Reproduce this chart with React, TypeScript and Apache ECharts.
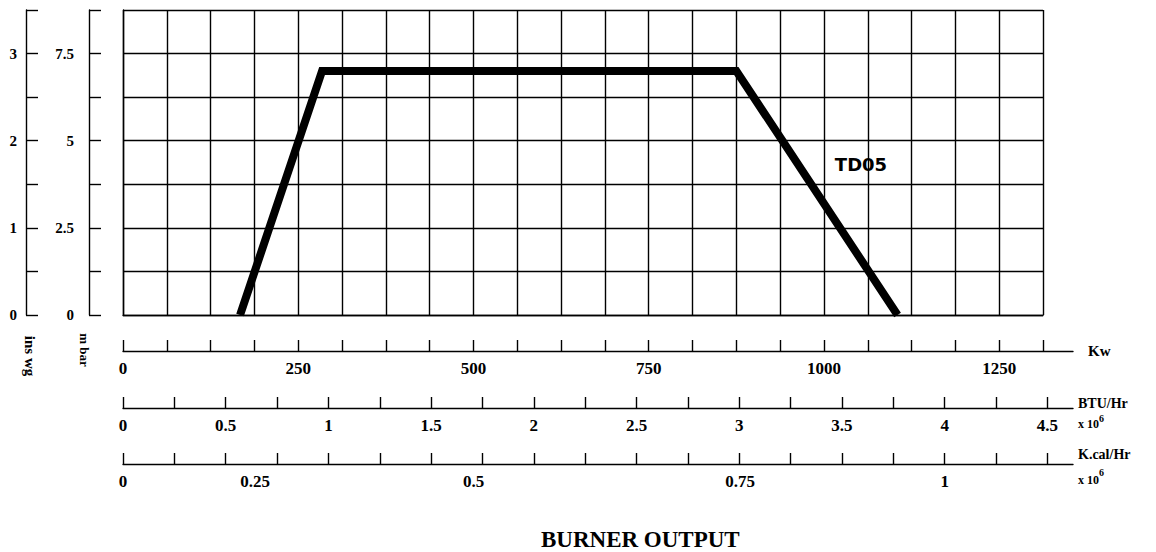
import React, { useEffect, useRef } from "react";
import * as echarts from "echarts";

// ---- unit conversions used by the secondary scales ----
const KW_PER_MBTU = 293.07; // 1 x10^6 BTU/Hr in kW
const KW_PER_MKCAL = 1163; // 1 x10^6 K.cal/Hr in kW

// ---- TD05 burner operating curve (kW vs mbar) ----
const CURVE_NAME = "TD05";
const CURVE_KW = [167, 284, 875, 1105];
const CURVE_MBAR = [0, 7, 7, 0];

// ---- grid / scales ----
const KW_STEP = 62.5;
const KW_COLS = 21;
const KW_MAX = KW_STEP * KW_COLS; // 1312.5
const MBAR_STEP = 1.25;
const MBAR_MAX = 8.75;
const INWG_STEP = 0.5;
const INWG_MAX = 3.5;

// ---- tick labels ----
const MBAR_LABELS = [0, 2.5, 5, 7.5];
const INWG_LABELS = [0, 1, 2, 3];
const KW_TICKS = [
  0, 62.5, 125, 187.5, 250, 312.5, 375, 437.5, 500, 562.5, 625, 687.5, 750,
  812.5, 875, 937.5, 1000, 1062.5, 1125, 1187.5, 1250, 1312.5,
];
const KW_LABELS = [0, 250, 500, 750, 1000, 1250];
const BTU_TICKS = [
  0, 0.25, 0.5, 0.75, 1, 1.25, 1.5, 1.75, 2, 2.25, 2.5, 2.75, 3, 3.25, 3.5,
  3.75, 4, 4.25, 4.5,
];
const BTU_LABELS = [0, 0.5, 1, 1.5, 2, 2.5, 3, 3.5, 4, 4.5];
const KCAL_LABELS = ["0", "0.25", "0.5", "0.75", "1"];
// where the printed chart places the K.cal labels along its scale (x10^6 K.cal/Hr)
const KCAL_LABEL_AT = [0, 0.162, 0.43, 0.757, 1.008];

const SERIF = '"Liberation Serif", "Times New Roman", serif';
const lab = (size: number) => ({
  fontFamily: SERIF,
  fontWeight: "bold" as const,
  fontSize: size,
  color: "#000",
});
const BLACK_LINE = { color: "#000", width: 1.4 };

export default function App() {
  const ref = useRef<HTMLDivElement>(null);

  useEffect(() => {
    if (!ref.current) return;
    const chart = echarts.init(ref.current, undefined, { renderer: "svg" });

    const PLOT_L = 123;
    const PLOT_T = 10;
    const PLOT_W = 920;
    const PLOT_H = 305;
    const EXT_W = 950; // bottom scales run a little past the grid
    const KW_EXT = (KW_MAX * EXT_W) / PLOT_W;

    const bottomAxis = (
      gridIndex: number,
      max: number,
      ticks: number[],
      labels: number[],
      fmt: (v: number) => string,
      name: string,
      nameGap: number,
      nameStyle: any
    ) => ({
      type: "value",
      gridIndex,
      position: "bottom",
      min: 0,
      max,
      axisLine: { show: true, onZero: false, lineStyle: BLACK_LINE },
      axisTick: {
        show: true,
        inside: true,
        length: 11,
        customValues: ticks,
        lineStyle: BLACK_LINE,
      },
      axisLabel: {
        show: true,
        customValues: labels,
        margin: 9,
        formatter: fmt,
        ...lab(17),
      },
      splitLine: { show: false },
      name,
      nameLocation: "end",
      nameGap,
      nameTextStyle: nameStyle,
    });

    const option: any = {
      animation: false,
      backgroundColor: "#fff",
      title: {
        text: "BURNER OUTPUT",
        left: 541,
        top: 528,
        padding: 0,
        textStyle: { ...lab(23) },
      },
      grid: [
        { left: PLOT_L, top: PLOT_T, width: PLOT_W, height: PLOT_H },
        { left: PLOT_L, top: 350, width: EXT_W, height: 1 },
        { left: PLOT_L, top: 407, width: EXT_W, height: 1 },
        { left: PLOT_L, top: 463, width: EXT_W, height: 1 },
      ],
      xAxis: [
        {
          type: "value",
          gridIndex: 0,
          min: 0,
          max: KW_MAX,
          interval: KW_STEP,
          axisLine: { show: true, onZero: false, lineStyle: BLACK_LINE },
          axisTick: { show: false },
          axisLabel: { show: false },
          splitLine: { show: true, lineStyle: BLACK_LINE },
        },
        bottomAxis(
          1,
          KW_EXT,
          KW_TICKS,
          KW_LABELS,
          (v) => String(v),
          "Kw",
          15,
          { ...lab(15), align: "left", verticalAlign: "middle" }
        ),
        bottomAxis(
          2,
          KW_EXT / KW_PER_MBTU,
          BTU_TICKS,
          BTU_LABELS,
          (v) => String(v),
          "{a|BTU/Hr}\n{b|x 10}{s|6}",
          5,
          {
            align: "left",
            verticalAlign: "middle",
            padding: [11, 0, 0, 0],
            rich: {
              a: { ...lab(14), lineHeight: 21 },
              b: { ...lab(12), lineHeight: 21 },
              s: { ...lab(10), lineHeight: 17, verticalAlign: "top" },
            },
          }
        ),
        bottomAxis(
          3,
          KW_EXT / KW_PER_MKCAL,
          BTU_TICKS.map((b) => (b * KW_PER_MBTU) / KW_PER_MKCAL),
          KCAL_LABEL_AT,
          (v) => {
            let best = 0;
            KCAL_LABEL_AT.forEach((p, i) => {
              if (Math.abs(p - v) < Math.abs(KCAL_LABEL_AT[best] - v)) best = i;
            });
            return KCAL_LABELS[best];
          },
          "{a|K.cal/Hr}\n{b|x 10}{s|6}",
          5,
          {
            align: "left",
            verticalAlign: "middle",
            padding: [6, 0, 0, 0],
            rich: {
              a: { ...lab(14), lineHeight: 26 },
              b: { ...lab(12), lineHeight: 26 },
              s: { ...lab(10), lineHeight: 21, verticalAlign: "top" },
            },
          }
        ),
      ],
      yAxis: [
        {
          type: "value",
          gridIndex: 0,
          position: "left",
          min: 0,
          max: MBAR_MAX,
          interval: MBAR_STEP,
          axisLine: { show: true, onZero: false, lineStyle: BLACK_LINE },
          axisTick: { show: false },
          axisLabel: { show: false },
          splitLine: { show: true, lineStyle: BLACK_LINE },
        },
        {
          type: "value",
          gridIndex: 0,
          position: "left",
          offset: 34,
          min: 0,
          max: MBAR_MAX,
          interval: MBAR_STEP,
          axisLine: { show: true, onZero: false, lineStyle: BLACK_LINE },
          axisTick: { show: true, inside: true, length: 12, lineStyle: BLACK_LINE },
          axisLabel: {
            show: true,
            customValues: MBAR_LABELS,
            margin: 15,
            formatter: (v: number) => String(v),
            ...lab(15),
          },
          splitLine: { show: false },
        },
        {
          type: "value",
          gridIndex: 0,
          position: "left",
          offset: 97,
          min: 0,
          max: INWG_MAX,
          interval: INWG_STEP,
          axisLine: { show: true, onZero: false, lineStyle: BLACK_LINE },
          axisTick: { show: true, inside: true, length: 12, lineStyle: BLACK_LINE },
          axisLabel: {
            show: true,
            customValues: INWG_LABELS,
            margin: 9,
            formatter: (v: number) => String(v),
            ...lab(15),
          },
          splitLine: { show: false },
        },
        { type: "value", gridIndex: 1, show: false, min: 0, max: 1 },
        { type: "value", gridIndex: 2, show: false, min: 0, max: 1 },
        { type: "value", gridIndex: 3, show: false, min: 0, max: 1 },
      ],
      series: [
        {
          name: CURVE_NAME,
          type: "line",
          xAxisIndex: 0,
          yAxisIndex: 0,
          data: CURVE_KW.map((k, i) => [k, CURVE_MBAR[i]]),
          symbol: "none",
          clip: true,
          silent: true,
          lineStyle: { color: "#000", width: 8, join: "miter", cap: "butt" },
        },
      ],
      graphic: [
        {
          type: "text",
          x: 861,
          y: 164,
          style: {
            text: CURVE_NAME,
            fill: "#000",
            font: 'bold 18px "DejaVu Sans", sans-serif',
            align: "center",
            verticalAlign: "middle",
            textAlign: "center",
            textVerticalAlign: "middle",
          },
        },
        {
          type: "text",
          x: 30,
          y: 356,
          rotation: -Math.PI / 2,
          style: {
            text: "ins wg",
            fill: "#000",
            font: `bold 15px ${SERIF}`,
            align: "center",
            verticalAlign: "middle",
            textAlign: "center",
            textVerticalAlign: "middle",
          },
        },
        {
          type: "text",
          x: 84,
          y: 350,
          rotation: -Math.PI / 2,
          style: {
            text: "m bar",
            fill: "#000",
            font: `bold 13px ${SERIF}`,
            align: "center",
            verticalAlign: "middle",
            textAlign: "center",
            textVerticalAlign: "middle",
          },
        },
      ],
    };

    chart.setOption(option);
    return () => chart.dispose();
  }, []);

  return (
    <div
      ref={ref}
      style={{ position: "fixed", left: 0, top: 0, width: 1156, height: 552, background: "#fff" }}
    />
  );
}
